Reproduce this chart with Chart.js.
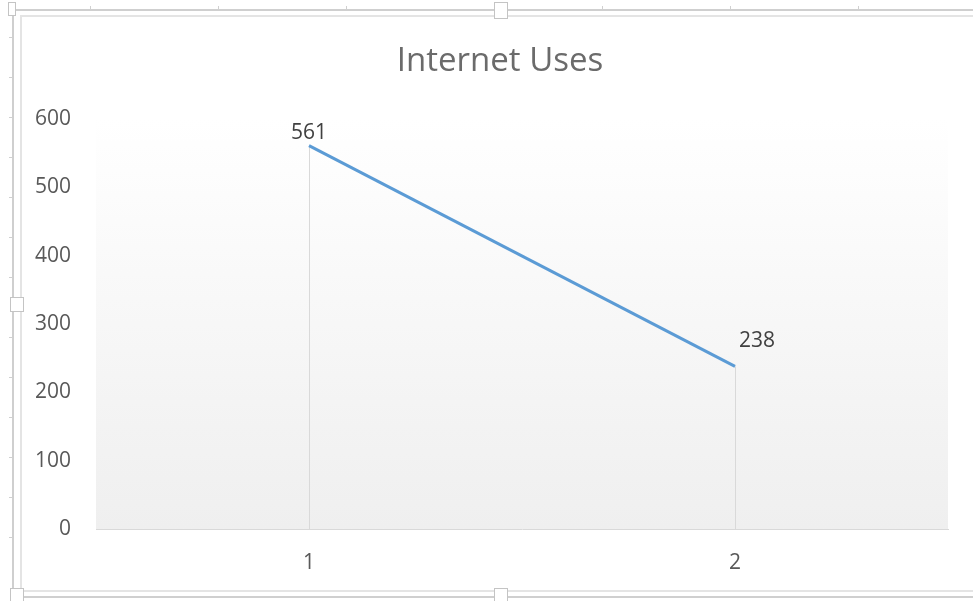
<!DOCTYPE html>
<html>
<head>
<meta charset="utf-8">
<title>Internet Uses</title>
<script src="https://cdn.jsdelivr.net/npm/chart.js@4.4.1/dist/chart.umd.min.js"></script>
<style>
  html, body { margin: 0; padding: 0; background: #fff; }
  canvas { display: block; }
</style>
</head>
<body>
<canvas id="usesChart" width="973" height="601"></canvas>
<script>
// Internet usage values
const categories = ["1", "2"];
const uses = [561, 238];
const yTicks = [0, 100, 200, 300, 400, 500, 600];
const chartTitle = "Internet Uses";

const textFont = "'Open Sans', 'Noto Sans', sans-serif";

// Light gradient behind the plot area
const plotBackground = {
  id: "plotBackground",
  beforeDraw(chart) {
    const { ctx, chartArea: a } = chart;
    const g = ctx.createLinearGradient(0, a.top, 0, a.bottom);
    g.addColorStop(0, "#ffffff");
    g.addColorStop(1, "#efefef");
    ctx.save();
    ctx.fillStyle = g;
    ctx.fillRect(a.left, a.top, a.right - a.left, a.bottom - a.top);
    ctx.restore();
  }
};

// Chart title, centred over the whole chart box
const chartHeading = {
  id: "chartHeading",
  afterDraw(chart, args, opts) {
    const ctx = chart.ctx;
    ctx.save();
    ctx.font = opts.font;
    ctx.fillStyle = opts.color;
    ctx.textAlign = "center";
    ctx.textBaseline = "alphabetic";
    ctx.fillText(opts.text, opts.x, opts.y);
    ctx.restore();
  }
};

// Selection frame with sizing handles around the chart
const chartFrame = {
  id: "chartFrame",
  afterDraw(chart) {
    const ctx = chart.ctx;
    const w = chart.width;
    ctx.save();
    ctx.lineWidth = 2;
    ctx.strokeStyle = "#cfcfcf";
    ctx.beginPath();
    ctx.moveTo(w + 5, 10); ctx.lineTo(13, 10); ctx.lineTo(13, 597); ctx.lineTo(w + 5, 597);
    ctx.stroke();
    ctx.strokeStyle = "#e4e4e4";
    ctx.beginPath();
    ctx.moveTo(w + 5, 16); ctx.lineTo(21, 16); ctx.lineTo(21, 591); ctx.lineTo(w + 5, 591);
    ctx.stroke();

    // small marks along the frame
    ctx.lineWidth = 1;
    ctx.strokeStyle = "#d0d0d0";
    [90, 218, 346, 602, 730, 858].forEach(x => {
      ctx.beginPath(); ctx.moveTo(x + 0.5, 6); ctx.lineTo(x + 0.5, 10); ctx.stroke();
    });
    [37, 77, 117, 157, 197, 237, 277, 337, 377, 417, 457, 497, 537].forEach(y => {
      ctx.beginPath(); ctx.moveTo(9, y + 0.5); ctx.lineTo(13, y + 0.5); ctx.stroke();
    });

    const handle = (x, y, hw, hh) => {
      ctx.fillStyle = "#ffffff";
      ctx.fillRect(x, y, hw, hh);
      ctx.strokeStyle = "#c4c4c4";
      ctx.lineWidth = 1;
      ctx.strokeRect(x + 0.5, y + 0.5, hw - 1, hh - 1);
    };
    handle(494, 2, 14, 17);
    handle(494, 588, 14, 16);
    handle(10, 297, 14, 15);
    handle(10, 588, 14, 16);
    handle(8, 2, 8, 14);
    ctx.restore();
  }
};

// Vertical drop lines from each point down to the category axis
const dropLines = {
  id: "dropLines",
  beforeDatasetsDraw(chart) {
    const { ctx, chartArea: a } = chart;
    const pts = chart.getDatasetMeta(0).data;
    ctx.save();
    ctx.strokeStyle = "#d9d9d9";
    ctx.lineWidth = 1;
    pts.forEach(p => {
      const x = Math.round(p.x) + 0.5;
      ctx.beginPath();
      ctx.moveTo(x, p.y);
      ctx.lineTo(x, a.bottom);
      ctx.stroke();
    });
    ctx.restore();
  }
};

// Value labels next to each point
const valueLabels = {
  id: "valueLabels",
  afterDatasetsDraw(chart, args, opts) {
    const ctx = chart.ctx;
    const ds = chart.data.datasets[0];
    const pts = chart.getDatasetMeta(0).data;
    ctx.save();
    ctx.font = opts.font;
    ctx.fillStyle = opts.color;
    ctx.textAlign = "center";
    ctx.textBaseline = "middle";
    pts.forEach((p, i) => {
      const off = opts.offsets[i] || [0, -14];
      ctx.fillText(String(ds.data[i]), p.x + off[0], p.y + off[1]);
    });
    ctx.restore();
  }
};

const config = {
  type: "line",
  data: {
    labels: categories,
    datasets: [{
      label: chartTitle,
      data: uses,
      borderColor: "#5b9bd5",
      borderWidth: 3,
      pointRadius: 0,
      pointHoverRadius: 0,
      tension: 0,
      fill: false
    }]
  },
  options: {
    responsive: false,
    animation: false,
    events: [],
    layout: { padding: { left: 0, right: 25, top: 119, bottom: 0 } },
    scales: {
      x: {
        type: "category",
        offset: true,
        grid: { display: false, drawTicks: false },
        border: { display: true, color: "#d9d9d9", width: 1 },
        ticks: { color: "#595959", padding: 21, font: { family: textFont, size: 21 } },
        afterFit(scale) { scale.height = 72; }
      },
      y: {
        min: 0,
        max: 600,
        afterBuildTicks(scale) { scale.ticks = yTicks.map(v => ({ value: v })); },
        grid: { display: false, drawTicks: false },
        border: { display: false },
        ticks: { color: "#595959", padding: 25, font: { family: textFont, size: 21 } },
        afterFit(scale) { scale.width = 96; }
      }
    },
    plugins: {
      legend: { display: false },
      tooltip: { enabled: false },
      title: { display: false },
      chartHeading: {
        text: chartTitle,
        font: "33px " + textFont,
        color: "#6b6b6b",
        x: 500,
        y: 71
      },
      valueLabels: {
        font: "21px " + textFont,
        color: "#404040",
        offsets: [[0, -13], [22, -25]]
      }
    }
  },
  plugins: [plotBackground, dropLines, valueLabels, chartHeading, chartFrame]
};

window.onload = () => {
  const ctx = document.getElementById("usesChart").getContext("2d");
  new Chart(ctx, config);
};
</script>
</body>
</html>
